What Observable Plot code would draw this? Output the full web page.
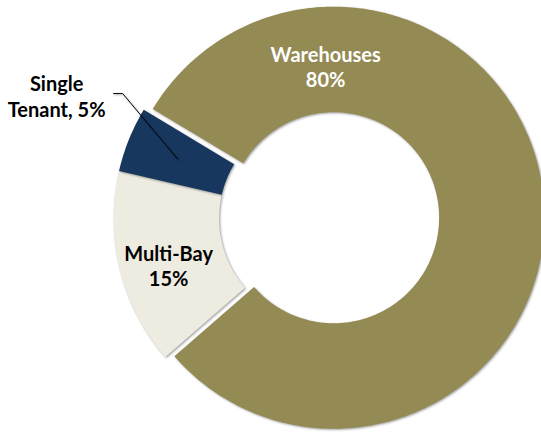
<!DOCTYPE html>
<html>
<head>
<meta charset="utf-8">
<script src="https://cdn.jsdelivr.net/npm/d3@7"></script>
<script src="https://cdn.jsdelivr.net/npm/@observablehq/plot@0.6"></script>
<style>
  html, body { margin: 0; padding: 0; background: #ffffff; }
  #chart svg { display: block; }
  #chart g[aria-label="line"] path { filter: drop-shadow(1px 1.5px 1.2px rgba(0,0,0,0.38)); }
</style>
</head>
<body>
<div id="chart"></div>
<script>
// ---- data ----
const categories = ["Warehouses", "Multi-Bay", "Single Tenant"];
const shares = [80, 15, 5];
const labels = ["Warehouses\n80%", "Multi-Bay\n15%", "Single\nTenant, 5%"];
const colors = ["#948A54", "#EEECE1", "#17375E"];
const textColors = ["#ffffff", "#000000", "#000000"];

// ---- layout (chart units: 1 = outer radius) ----
const W = 541, H = 432;
const innerRatio = 0.5;
const startDeg = -59;          // first slice angle (clockwise from north)
const explode = {"Warehouses": 0.043};
const xDomain = [-1.536, 1.028];
const yDomain = [-1.033, 1.014]; // y grows downward
const labelPos = {
  "Warehouses": [0.005, -0.72],
  "Multi-Bay": [-0.739, 0.223],
  "Single Tenant": [-1.270, -0.581]
};
const leaderStart = [[-1.0, -0.592], [-0.957, -0.592]];

// ---- geometry from data ----
const pie = d3.pie().sort(null).value(d => d.value).startAngle(startDeg * Math.PI / 180);
const rows = categories.map((c, i) => ({name: c, value: shares[i], label: labels[i], textColor: textColors[i]}));
const arcs = pie(rows);

const pts = [];
for (const a of arcs) {
  const mid = (a.startAngle + a.endAngle) / 2;
  const off = explode[a.data.name] || 0;
  const cx = off * Math.sin(mid), cy = -off * Math.cos(mid);
  const n = Math.max(8, Math.ceil((a.endAngle - a.startAngle) * 60));
  for (let k = 0; k <= n; k++) {
    const t = a.startAngle + (a.endAngle - a.startAngle) * k / n;
    pts.push({name: a.data.name, x: cx + Math.sin(t), y: cy - Math.cos(t)});
  }
  for (let k = n; k >= 0; k--) {
    const t = a.startAngle + (a.endAngle - a.startAngle) * k / n;
    pts.push({name: a.data.name, x: cx + innerRatio * Math.sin(t), y: cy - innerRatio * Math.cos(t)});
  }
}

const textRows = rows.map(r => ({...r, x: labelPos[r.name][0], y: labelPos[r.name][1]}));

// leader line to Single Tenant centroid
const st = arcs.find(a => a.data.name === "Single Tenant");
const stMid = (st.startAngle + st.endAngle) / 2;
const rC = (1 + innerRatio) / 2;
const leader = [...leaderStart.map(p => ({x: p[0], y: p[1]})),
  {x: rC * Math.sin(stMid), y: -rC * Math.cos(stMid)}];

const chart = Plot.plot({
  width: W,
  height: H,
  margin: 0,
  style: {background: "#ffffff", overflow: "visible"},
  x: {domain: xDomain, range: [0, W], axis: null},
  y: {domain: yDomain, range: [0, H], axis: null},
  color: {domain: categories, range: colors},
  marks: [
    Plot.line(pts, {x: "x", y: "y", z: "name", fill: "name", stroke: null, curve: "linear-closed"}),
    Plot.line(leader, {x: "x", y: "y", stroke: "#000000", strokeWidth: 1}),
    Plot.text(textRows, {
      x: "x", y: "y", text: "label", fill: d => d.textColor,
      fontFamily: "Lato", fontWeight: "bold", fontSize: 20, lineHeight: 1.27,
      textAnchor: "middle", lineAnchor: "middle"
    })
  ]
});
document.getElementById("chart").appendChild(chart);
</script>
</body>
</html>
